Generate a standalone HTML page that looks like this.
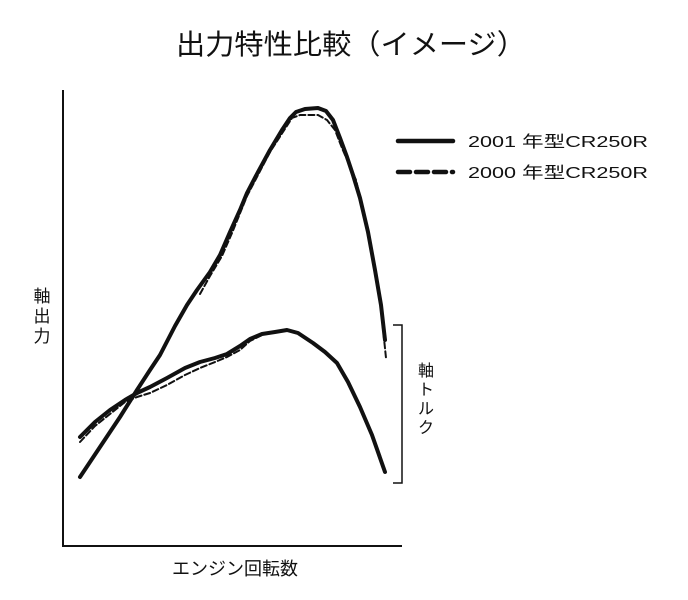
<!DOCTYPE html><html><head><meta charset="utf-8"><style>body{margin:0;background:#fff}svg{display:block}text{font-family:"Liberation Sans","Noto Sans CJK JP",sans-serif;fill:#111}</style></head><body>
<svg width="688" height="600" viewBox="0 0 688 600">
<text x="176" y="54" font-size="28" textLength="350" lengthAdjust="spacingAndGlyphs">出力特性比較（イメージ）</text>
<path d="M63 90V546H402" fill="none" stroke="#111" stroke-width="2"/>
<path d="M393 325H402V483H393" fill="none" stroke="#111" stroke-width="1.5"/>
<g fill="none" stroke="#111" stroke-linecap="round" stroke-linejoin="round">
<polyline stroke-width="4" points="80,477 100,447 120,417 137,390 150,370 160,355 175,326 187,305 197,290 210,272 220,255 230,232 240,210 247,193 258,172 270,150 282,130 290,118 296,112 305,109 318,108 326,111 333,120 340,138 347,157 353,175 360,198 368,232 375,270 381,305 385,340"/>
<polyline stroke-width="4" points="80,437 95,422 110,410 125,400 137,393 150,387 167,378 185,368 200,362 215,358 227,354 240,346 250,339 262,334 275,332 287,330 298,333 313,343 325,352 337,363 348,382 360,407 372,435 385,472"/>
<polyline stroke-width="2" stroke-dasharray="6 3" points="80,442 95,426 110,414 125,402 137,397 150,393 167,385 185,375 200,368 215,362 227,357 240,350 250,341 262,335 275,332 287,330"/>
<polyline stroke-width="2" stroke-dasharray="6 3" points="200,294 210,276 222,256 232,233 247,196 270,152 292,118 300,115 318,115 327,120 335,130 342,148 356,180 370,240 379,290 386,358"/>
<path d="M398 141H453" stroke-width="4.5"/>
<path d="M398 172H453" stroke-width="4.5" stroke-dasharray="12 6"/>
</g>
<text x="468" y="147" font-size="16" textLength="180" lengthAdjust="spacingAndGlyphs">2001 年型CR250R</text>
<text x="468" y="178" font-size="16" textLength="180" lengthAdjust="spacingAndGlyphs">2000 年型CR250R</text>
<text font-size="17" text-anchor="middle"><tspan x="42" y="302">軸</tspan><tspan x="42" y="322">出</tspan><tspan x="42" y="342">力</tspan></text>
<text font-size="16" text-anchor="middle"><tspan x="426" y="376">軸</tspan><tspan x="426" y="395">ト</tspan><tspan x="426" y="414">ル</tspan><tspan x="426" y="433">ク</tspan></text>
<text x="235" y="575" font-size="18" text-anchor="middle">エンジン回転数</text>
</svg></body></html>
